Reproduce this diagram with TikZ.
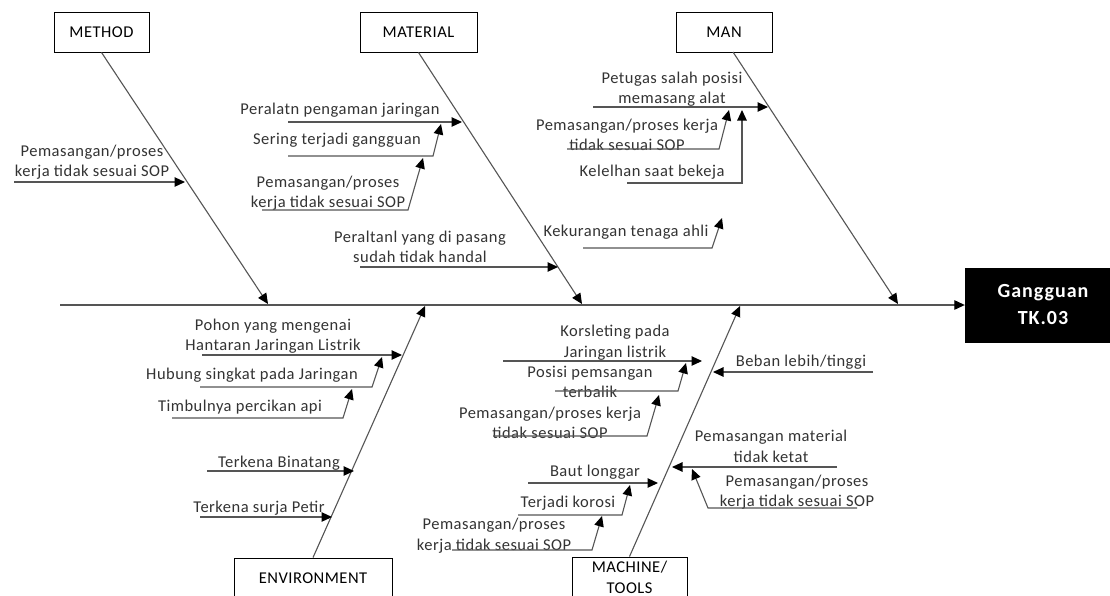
\documentclass[tikz,border=0pt]{standalone}
\usepackage{fontspec}
\setmainfont[LetterSpace=3]{Carlito}
\newfontfamily\goalfont[LetterSpace=5]{Carlito}
\usetikzlibrary{arrows.meta}
\definecolor{linec}{HTML}{555555}
\definecolor{txtc}{HTML}{333333}
\tikzset{
  x=1pt, y=-1pt,
  lbl/.style={inner sep=0pt, align=center, text=txtc, font=\fontsize{16.5}{20.5}\selectfont},
  catbox/.style={draw=black, line width=0.9pt, fill=white, minimum height=40pt, inner sep=0pt, align=center, text=black, font=\fontsize{16.5}{21}\selectfont},
  goalbox/.style={fill=black, draw=black, minimum width=156pt, minimum height=74pt, inner sep=0pt, align=center, text=white, font=\goalfont\bfseries\fontsize{20}{27}\selectfont},
  tip/.style={-{Triangle[length=10.5pt,width=9.5pt,color=black,fill=black]}},
  bone/.style={draw=linec, line width=1.1pt, tip},
  sub/.style={draw=linec, line width=1.1pt, tip},
}
\begin{document}
\begin{tikzpicture}
\clip (0,0) rectangle (1110,595);
\fill[white] (0,0) rectangle (1110,595);

% category boxes
\node[catbox, minimum width=95pt]  (method)   at (101.5,32) {METHOD};
\node[catbox, minimum width=117pt] (material) at (418.5,32) {MATERIAL};
\node[catbox, minimum width=96pt]  (man)      at (724,32)   {MAN};
\node[catbox, minimum width=158pt] (env)      at (313,578)  {ENVIRONMENT};
\node[catbox, minimum width=115pt] (mach)     at (629.5,577) {MACHINE/\\TOOLS};
\node[goalbox] (goal) at (1043,305) {Gangguan\\TK.03};

% spine and bones
\coordinate (sp0) at (60,305);
\draw[bone] (sp0) -- (goal.west);
\coordinate (manb) at (733,52);
\coordinate (tmethod) at (268,304);
\coordinate (tmaterial) at (582,304);
\coordinate (tman) at (898,304);
\coordinate (tenv) at (425,306);
\coordinate (tmach) at (740,306);
\draw[bone] (method.south) -- (tmethod);
\draw[bone] (material.south) -- (tmaterial);
\draw[bone] (manb) -- (tman);
\draw[bone] (env.north) -- (tenv);
\draw[bone] (mach.north) -- (tmach);

% ---------- METHOD
\node[lbl] (m1) at (92,162) {Pemasangan/proses\\kerja tidak sesuai SOP};
\path (14,182) coordinate (m1a) (185,182) coordinate (m1b);
\draw[sub] (m1a) -- (m1b);

% ---------- MATERIAL
\node[lbl] (t1) at (340,110) {Peralatn pengaman jaringan};
\node[lbl] (t2) at (337,140) {Sering terjadi gangguan};
\node[lbl] (t3) at (328,193) {Pemasangan/proses\\kerja tidak sesuai SOP};
\node[lbl] (t4) at (420,247) {Peraltanl yang di pasang\\sudah tidak handal};
\path (288,122) coordinate (t1a) (462,122) coordinate (t1b);
\path (288,156) coordinate (t2a) (433,156) coordinate (t2k) (441,124) coordinate (t2b);
\path (262,210) coordinate (t3a) (408,210) coordinate (t3k) (423,158) coordinate (t3b);
\path (360,267) coordinate (t4a) (558,267) coordinate (t4b);
\draw[sub] (t1a) -- (t1b);
\draw[sub] (t2a) -- (t2k) -- (t2b);
\draw[sub] (t3a) -- (t3k) -- (t3b);
\draw[sub] (t4a) -- (t4b);

% ---------- MAN
\node[lbl] (n1) at (672,89)  {Petugas salah posisi\\memasang alat};
\node[lbl] (n2) at (627,135) {Pemasangan/proses kerja\\tidak sesuai SOP};
\node[lbl] (n3) at (652,172) {Kelelhan saat bekeja};
\node[lbl] (n4) at (626,232) {Kekurangan tenaga ahli};
\path (593,107) coordinate (n1a) (768,107) coordinate (n1b);
\path (567,149) coordinate (n2a) (719,149) coordinate (n2k) (729,110) coordinate (n2b);
\path (627,183) coordinate (n3a) (742,183) coordinate (n3k) (742,110) coordinate (n3b);
\path (583,248) coordinate (n4a) (712,248) coordinate (n4k) (722,218) coordinate (n4b);
\draw[sub] (n1a) -- (n1b);
\draw[sub] (n2a) -- (n2k) -- (n2b);
\draw[sub] (n3a) -- (n3k) -- (n3b);
\draw[sub] (n4a) -- (n4k) -- (n4b);

% ---------- ENVIRONMENT
\node[lbl] (e1) at (273,336) {Pohon yang mengenai\\Hantaran Jaringan Listrik};
\node[lbl] (e2) at (252,375) {Hubung singkat pada Jaringan};
\node[lbl] (e3) at (240,407) {Timbulnya percikan api};
\node[lbl] (e4) at (279,463) {Terkena Binatang};
\node[lbl] (e5) at (259,508) {Terkena surja Petir};
\path (202,355) coordinate (e1a) (402,355) coordinate (e1b);
\path (200,387) coordinate (e2a) (372,387) coordinate (e2k) (382,357) coordinate (e2b);
\path (172,418) coordinate (e3a) (343,418) coordinate (e3k) (352,389) coordinate (e3b);
\path (207,471) coordinate (e4a) (354,471) coordinate (e4b);
\path (200,517) coordinate (e5a) (332,517) coordinate (e5b);
\draw[sub] (e1a) -- (e1b);
\draw[sub] (e2a) -- (e2k) -- (e2b);
\draw[sub] (e3a) -- (e3k) -- (e3b);
\draw[sub] (e4a) -- (e4b);
\draw[sub] (e5a) -- (e5b);

% ---------- MACHINE / TOOLS
\node[lbl] (k1) at (615,342.5) {Korsleting pada\\Jaringan listrik};
\node[lbl] (k2) at (590,382)   {Posisi pemsangan\\terbalik};
\node[lbl] (k3) at (550,423)   {Pemasangan/proses kerja\\tidak sesuai SOP};
\node[lbl] (k4) at (595,472)   {Baut longgar};
\node[lbl] (k5) at (568,503)   {Terjadi korosi};
\node[lbl] (k6) at (494,535.5) {Pemasangan/proses\\kerja tidak sesuai SOP};
\node[lbl] (r1) at (801,362)   {Beban lebih/tinggi};
\node[lbl] (r2) at (771,446.5) {Pemasangan material\\tidak ketat};
\node[lbl] (r3) at (797,492)   {Pemasangan/proses\\kerja tidak sesuai SOP};
\path (503,361) coordinate (k1a) (702,361) coordinate (k1b);
\path (555,391) coordinate (k2a) (678,391) coordinate (k2k) (686,363) coordinate (k2b);
\path (493,436) coordinate (k3a) (647,436) coordinate (k3k) (659,395) coordinate (k3b);
\path (528,483) coordinate (k4a) (658,483) coordinate (k4b);
\path (518,515) coordinate (k5a) (622,515) coordinate (k5k) (630,485) coordinate (k5b);
\path (452,550) coordinate (k6a) (592,550) coordinate (k6k) (602,516) coordinate (k6b);
\path (873,372) coordinate (r1a) (713,372) coordinate (r1b);
\path (837,467) coordinate (r2a) (672,467) coordinate (r2b);
\path (857,508) coordinate (r3a) (708,508) coordinate (r3k) (692,469) coordinate (r3b);
\draw[sub] (k1a) -- (k1b);
\draw[sub] (k2a) -- (k2k) -- (k2b);
\draw[sub] (k3a) -- (k3k) -- (k3b);
\draw[sub] (k4a) -- (k4b);
\draw[sub] (k5a) -- (k5k) -- (k5b);
\draw[sub] (k6a) -- (k6k) -- (k6b);
\draw[sub] (r1a) -- (r1b);
\draw[sub] (r2a) -- (r2b);
\draw[sub] (r3a) -- (r3k) -- (r3b);
\end{tikzpicture}
\end{document}
